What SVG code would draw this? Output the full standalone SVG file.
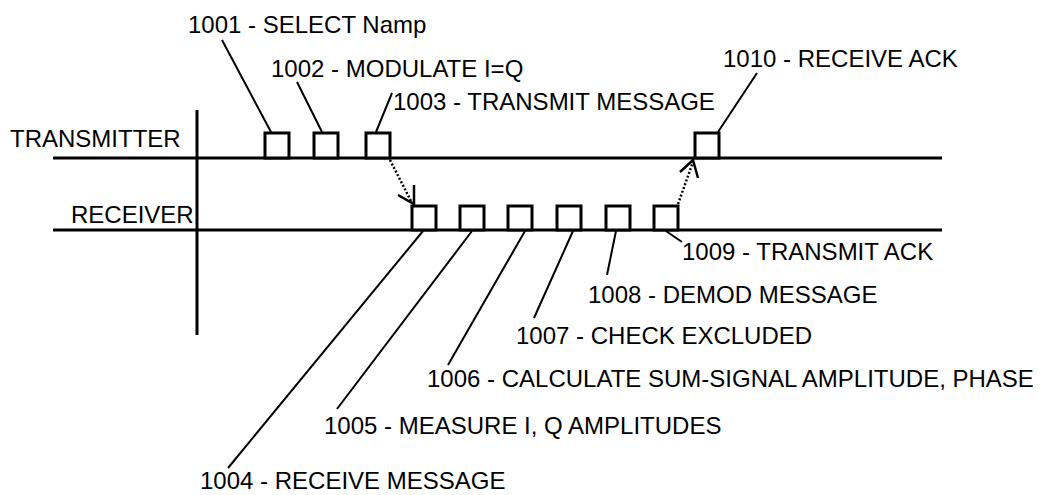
<svg xmlns="http://www.w3.org/2000/svg" width="1050" height="495" viewBox="0 0 1050 495">
<style>
text{font-family:"Liberation Sans",Arial,sans-serif;font-size:24px;fill:#000}
.main{stroke:#000;stroke-width:3;fill:none}
.box{stroke:#000;stroke-width:3;fill:#fff}
.lead{stroke:#000;stroke-width:2;fill:none}
.dot{stroke:#000;stroke-width:2.5;stroke-dasharray:2 2;fill:none}
.head{stroke:#000;stroke-width:2.5;fill:none}
</style>
<rect width="1050" height="495" fill="#fff"/>
<g id="axes">
<line class="main" x1="197" y1="110" x2="197" y2="335"/>
<line class="main" x1="53" y1="158" x2="942" y2="158"/>
<line class="main" x1="53" y1="230" x2="942" y2="230"/>
<text x="10" y="147">TRANSMITTER</text>
<text x="71" y="223">RECEIVER</text>
</g>
<g id="n1001"><rect class="box" x="265" y="133" width="24" height="25"/><text x="188" y="33">1001 - SELECT Namp</text></g>
<g id="n1002"><rect class="box" x="314" y="133" width="24" height="25"/><text x="271" y="77">1002 - MODULATE I=Q</text></g>
<g id="n1003"><rect class="box" x="366" y="133" width="24" height="25"/><text x="393" y="110">1003 - TRANSMIT MESSAGE</text></g>
<g id="n1010"><rect class="box" x="695" y="133" width="24" height="25"/><text x="723" y="67">1010 - RECEIVE ACK</text></g>
<g id="n1004"><rect class="box" x="412" y="206" width="24" height="24"/><text x="200" y="489">1004 - RECEIVE MESSAGE</text></g>
<g id="n1005"><rect class="box" x="460" y="206" width="24" height="24"/><text x="324" y="434">1005 - MEASURE I, Q AMPLITUDES</text></g>
<g id="n1006"><rect class="box" x="508" y="206" width="24" height="24"/><text x="427" y="387">1006 - CALCULATE SUM-SIGNAL AMPLITUDE, PHASE</text></g>
<g id="n1007"><rect class="box" x="557" y="206" width="24" height="24"/><text x="516" y="344">1007 - CHECK EXCLUDED</text></g>
<g id="n1008"><rect class="box" x="606" y="206" width="24" height="24"/><text x="588" y="303">1008 - DEMOD MESSAGE</text></g>
<g id="n1009"><rect class="box" x="654" y="206" width="24" height="24"/><text x="682" y="260">1009 - TRANSMIT ACK</text></g>
<g id="connectors">
<line class="lead" x1="222" y1="40" x2="271" y2="132"/>
<line class="lead" x1="297" y1="82" x2="322" y2="132"/>
<line class="lead" x1="392" y1="93" x2="376" y2="132"/>
<line class="lead" x1="757" y1="73" x2="718" y2="132"/>
<line class="lead" x1="423" y1="231" x2="228" y2="468"/>
<line class="lead" x1="472" y1="231" x2="337" y2="409"/>
<line class="lead" x1="525" y1="231" x2="448" y2="365"/>
<line class="lead" x1="573" y1="231" x2="534" y2="318"/>
<line class="lead" x1="616" y1="231" x2="607" y2="275"/>
<line class="lead" x1="666" y1="231" x2="682" y2="242"/>
<line class="dot" x1="390" y1="160" x2="412" y2="203"/>
<polyline class="head" points="414,185 414,204 398,195"/>
<line class="dot" x1="678" y1="204" x2="693" y2="162"/>
<polyline class="head" points="680,172 693,160 698,178"/>
</g>
</svg>
